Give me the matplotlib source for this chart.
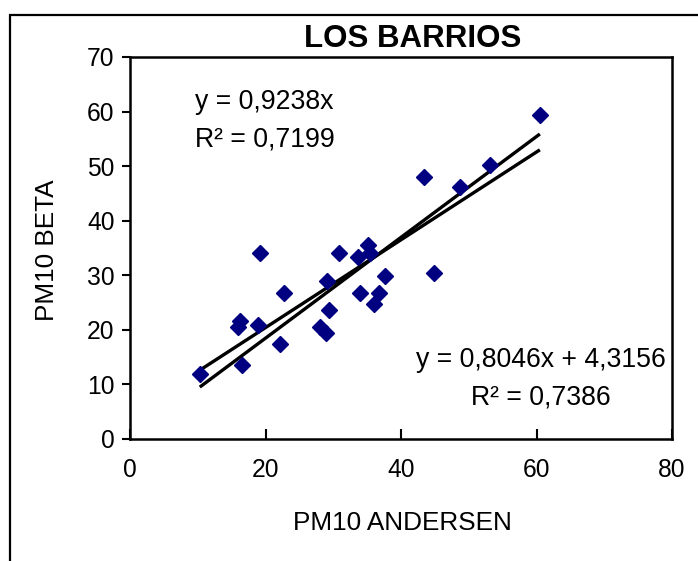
import matplotlib
matplotlib.use("Agg")
import matplotlib.pyplot as plt
import numpy as np
from matplotlib.patches import Rectangle

plt.rcParams['font.family'] = ['Liberation Sans', 'DejaVu Sans']

# PM10 Andersen (x) vs PM10 Beta (y)
andersen = [10.3, 16.0, 16.3, 16.6, 19.2, 18.9, 22.1, 22.7, 28.0, 28.9, 29.1, 29.4, 30.9,
            33.6, 34.0, 35.1, 35.4, 36.0, 36.7, 37.7, 43.4, 44.9, 48.7, 53.1, 60.5]
beta = [12.0, 20.6, 21.7, 13.6, 34.0, 20.8, 17.5, 26.7, 20.5, 19.4, 29.0, 23.6, 34.0,
        33.3, 26.7, 35.6, 34.0, 24.7, 26.7, 29.9, 48.0, 30.4, 46.2, 50.2, 59.3]

# trend lines as printed on the chart
slope0 = 0.9238
slope1, icpt1 = 0.8046, 4.3156
eq0 = ["y = 0,9238x", "R² = 0,7199"]
eq1 = ["y = 0,8046x + 4,3156", "R² = 0,7386"]

W, H = 698, 561
fig = plt.figure(figsize=(W / 100, H / 100), dpi=100)
ax = fig.add_axes([130 / W, 1 - 439 / H, 542 / W, 382 / H])

xs = np.array([min(andersen), max(andersen)])
ax.plot(xs, slope0 * xs, color='black', lw=2.4, solid_capstyle='butt')
ax.plot(xs, slope1 * xs + icpt1, color='black', lw=2.4, solid_capstyle='butt')
ax.plot(andersen, beta, 'D', color='#000080', ms=8, mec='#000080', zorder=3)

ax.set_xlim(0, 80)
ax.set_ylim(0, 70)
ax.set_xticks(range(0, 81, 20))
ax.set_yticks(range(0, 71, 10))
ax.tick_params(axis='x', direction='in', length=7, width=1.5, labelsize=17.7, pad=14)
ax.tick_params(axis='y', direction='out', length=6, width=1.5, labelsize=17.7, pad=5)
for s in ax.spines.values():
    s.set_linewidth(1.8)

fig.text(47 / W, 1 - 250 / H, "PM10 BETA", rotation=90, ha='center', va='center', fontsize=18.8)
fig.text(402 / W, 1 - 523 / H, "PM10 ANDERSEN", ha='center', va='center', fontsize=18.8)
fig.text(413 / W, 1 - 39 / H, "LOS BARRIOS", ha='center', va='center', fontsize=22.5,
         fontweight='bold')

ax.text(0.12, 0.882, eq0[0], transform=ax.transAxes, ha='left', va='center', fontsize=19.2)
ax.text(0.12, 0.783, eq0[1], transform=ax.transAxes, ha='left', va='center', fontsize=19.2)
ax.text((541 - 130) / 542, (439 - 360) / 382, eq1[0], transform=ax.transAxes,
        ha='center', va='center', fontsize=19.2)
ax.text((541 - 130) / 542, (439 - 398) / 382, eq1[1], transform=ax.transAxes,
        ha='center', va='center', fontsize=19.2)

# outer chart frame (cut off at right and bottom)
fig.patches.append(Rectangle((10 / W, -0.1), 1.2, 1 - 15 / H + 0.1, transform=fig.transFigure,
                             fill=False, lw=1.6, edgecolor='black'))

fig.savefig("out.png", dpi=100)
